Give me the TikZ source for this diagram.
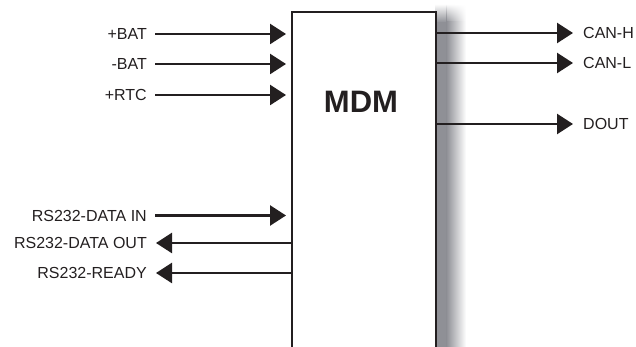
\documentclass[tikz,border=0pt]{standalone}
\usepackage{fontspec}
\setmainfont{Liberation Sans}
\usetikzlibrary{arrows.meta,fadings}
\definecolor{ink}{RGB}{35,31,32}
\definecolor{shgray}{RGB}{143,144,150}
\tikzset{
  lbl/.style={inner sep=0pt, font=\fontsize{16}{19}\selectfont, text=ink},
  conn/.style={draw=ink, line width=2.5pt, -{Triangle[length=16pt,width=20pt]}},
  boxstyle/.style={draw=ink, line width=2pt, fill=white, inner sep=0pt,
    minimum width=144pt, minimum height=380pt, anchor=north west}
}
\begin{document}
\begin{tikzpicture}[x=1pt,y=1pt]
\useasboundingbox (0,0) rectangle (636,347);
\clip (0,0) rectangle (636,347);
% shadow
\fill[shgray] (435,-10) rectangle (447,325);
\shade[left color=shgray, right color=white] (446.5,-10) rectangle (466,325);
\fill[shgray, path fading=north] (435,324.5) rectangle (447,343);
\shade[left color=shgray, right color=white, path fading=north] (446.5,324.5) rectangle (466,343);
% box
\node[boxstyle] (box) at (291,336) {};
\node[font=\fontsize{31}{35}\selectfont\bfseries, text=ink] (title) at (361,245) {MDM};
% left labels
\node[lbl, anchor=east] (bat) at (147,313) {+BAT};
\node[lbl, anchor=east] (nbat) at (147,283) {-BAT};
\node[lbl, anchor=east] (rtc) at (147,252) {+RTC};
\node[lbl, anchor=east] (din) at (147,131.5) {RS232-DATA IN};
\node[lbl, anchor=east] (dout) at (147,104) {RS232-DATA OUT};
\node[lbl, anchor=east] (rdy) at (147,74) {RS232-READY};
% right labels
\node[lbl, anchor=west] (canh) at (583,314) {CAN-H};
\node[lbl, anchor=west] (canl) at (583,284) {CAN-L};
\node[lbl, anchor=west] (do) at (583,223) {DOUT};
% inputs
\foreach \n in {bat,nbat,rtc,din}
  \draw[conn, shorten <=8pt, shorten >=5pt] (\n.east) -- (\n.east -| box.west);
% outputs to left
\foreach \n in {dout,rdy}
  \draw[conn, shorten >=9pt] (\n.east -| box.west) -- (\n.east);
% outputs to right
\foreach \n in {canh,canl,do}
  \draw[conn, shorten >=10pt] (\n.west -| box.east) -- (\n.west);
\end{tikzpicture}
\end{document}
